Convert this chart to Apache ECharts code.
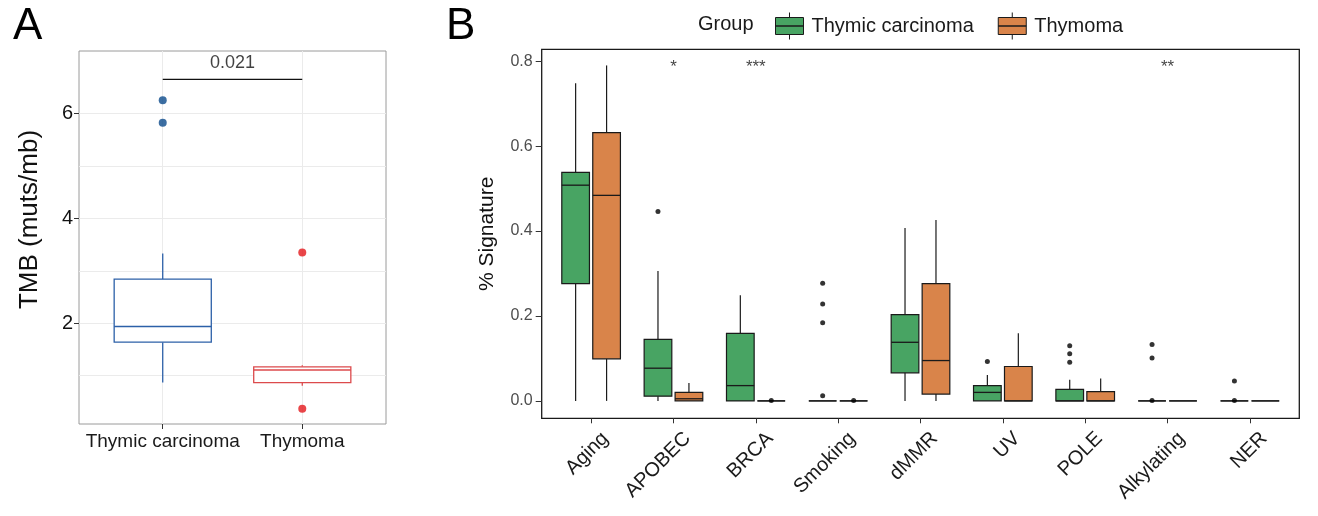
<!DOCTYPE html>
<html><head><meta charset="utf-8">
<script src="https://cdn.jsdelivr.net/npm/echarts@6/dist/echarts.min.js"></script>
<style>html,body{margin:0;padding:0;background:#fff}#c{width:1318px;height:516px}</style>
</head><body><div id="c"></div>
<script>
// ---------- Panel A data ----------
var groupsA = ['Thymic carcinoma', 'Thymoma'];
// [min, Q1, median, Q3, max]
var tmbCarcinoma = [0.87, 1.64, 1.94, 2.84, 3.33];
var tmbThymoma = [0.81, 0.87, 1.11, 1.17, 1.20];
var tmbOutliers = [[0, 6.25], [0, 5.82], [1, 3.35], [1, 0.37]]; // [groupIndex, value]
var tmbTicks = [2, 4, 6];
var tmbMinorTicks = [1, 3, 5];
var sigPairA = [0, 1];
var sigLineYA = 6.65;
var sigLabelA = '0.021';
var sigLabelYA = 6.96;

// ---------- Panel B data ----------
var categoriesB = ['Aging', 'APOBEC', 'BRCA', 'Smoking', 'dMMR', 'UV', 'POLE', 'Alkylating', 'NER'];
// [min, Q1, median, Q3, max] per signature
var carcinomaB = [
  [0, 0.276, 0.508, 0.538, 0.748],
  [0, 0.011, 0.077, 0.145, 0.306],
  [0, 0, 0.036, 0.159, 0.249],
  [0, 0, 0, 0, 0],
  [0, 0.066, 0.138, 0.203, 0.407],
  [0, 0, 0.020, 0.036, 0.061],
  [0, 0, 0, 0.027, 0.050],
  [0, 0, 0, 0, 0],
  [0, 0, 0, 0, 0]
];
var thymomaB = [
  [0, 0.099, 0.484, 0.632, 0.790],
  [0, 0, 0.005, 0.020, 0.042],
  [0, 0, 0, 0, 0],
  [0, 0, 0, 0, 0],
  [0, 0.016, 0.095, 0.276, 0.426],
  [0, 0, 0, 0.081, 0.159],
  [0, 0, 0, 0.022, 0.053],
  [0, 0, 0, 0, 0],
  [0, 0, 0, 0, 0]
];
var carcinomaOutliersB = [[1, 0.446], [3, 0.277], [3, 0.228], [3, 0.184], [3, 0.012], [5, 0.093],
  [6, 0.130], [6, 0.111], [6, 0.091], [7, 0.133], [7, 0.101], [7, 0.001], [8, 0.047], [8, 0.001]];
var thymomaOutliersB = [[2, 0.001], [3, 0.001]];
var sigLabelsB = [[1, '*'], [2, '***'], [7, '**']];
var sigLabelYB = 0.786;
var ticksB = [0, 0.2, 0.4, 0.6, 0.8];

// ---------- styles ----------
var colorsA = ['#2C60A8', '#DC4A4C'];
var outlierColorsA = ['#0B4A8B', '#E3181C'];
var green = '#48A463';
var orange = '#D9844A';
var dark = '#1a1a1a';
var dodge = 0.188;
var halfWB = 0.168;
var halfWA = 0.348;

function boxRenderer(offset, halfW, fillFn, strokeFn, lw) {
  return function (params, api) {
    var x = api.value(0) + offset;
    var pMin = api.coord([x, api.value(1)]);
    var pQ1 = api.coord([x, api.value(2)]);
    var pMed = api.coord([x, api.value(3)]);
    var pQ3 = api.coord([x, api.value(4)]);
    var pMax = api.coord([x, api.value(5)]);
    var left = api.coord([x - halfW, 0])[0];
    var right = api.coord([x + halfW, 0])[0];
    var stroke = strokeFn(params.dataIndex);
    var fill = fillFn(params.dataIndex);
    var ls = { stroke: stroke, lineWidth: lw };
    return {
      type: 'group', children: [
        { type: 'line', shape: { x1: pMax[0], y1: pMax[1], x2: pQ3[0], y2: pQ3[1] }, style: ls },
        { type: 'line', shape: { x1: pQ1[0], y1: pQ1[1], x2: pMin[0], y2: pMin[1] }, style: ls },
        { type: 'rect', shape: { x: left, y: pQ3[1], width: right - left, height: Math.max(pQ1[1] - pQ3[1], 0) },
          style: { fill: fill, stroke: stroke, lineWidth: lw } },
        { type: 'line', shape: { x1: left, y1: pMed[1], x2: right, y2: pMed[1] }, style: { stroke: stroke, lineWidth: lw * 1.1 } }
      ]
    };
  };
}
function rows(list) { return list.map(function (b, i) { return [i].concat(b); }); }

var chart = echarts.init(document.getElementById('c'), null, { renderer: 'canvas' });
var fam = "'Liberation Sans', Arial, Helvetica, sans-serif";

var option = {
  animation: false,
  textStyle: { fontFamily: fam },
  title: [
    { text: 'A', left: 8, top: 0, textStyle: { fontSize: 44, fontWeight: 'normal', color: '#000', fontFamily: fam } },
    { text: 'B', left: 441, top: 0, textStyle: { fontSize: 44, fontWeight: 'normal', color: '#000', fontFamily: fam } },
    { text: 'Group', left: 693, top: 9, textStyle: { fontSize: 20, fontWeight: 'normal', color: dark, fontFamily: fam } }
  ],
  legend: {
    data: ['Thymic carcinoma', 'Thymoma'],
    left: 770, top: 7,
    itemWidth: 28, itemHeight: 27, itemGap: 24,
    icon: 'path://M14,0 L14,5 M0,5 L28,5 L28,13.5 L0,13.5 Z M0,13.5 L28,13.5 L28,22 L0,22 Z M14,22 L14,27',
    itemStyle: { borderColor: dark, borderWidth: 1 },
    textStyle: { fontSize: 20, color: dark, fontFamily: fam, padding: [0, 0, 0, 3] },
    selectedMode: false
  },
  grid: [
    { left: 79, top: 51, width: 307, height: 373, show: true, borderColor: '#9a9a9a', borderWidth: 1, backgroundColor: 'transparent' },
    { left: 541.7, top: 49.3, width: 757.6, height: 369, show: true, borderColor: dark, borderWidth: 1.3, backgroundColor: 'transparent' }
  ],
  xAxis: [
    { type: 'value', gridIndex: 0, min: -0.6, max: 1.6, position: 'bottom',
      axisLine: { show: false, onZero: false },
      axisTick: { show: true, customValues: [0, 1], length: 5, lineStyle: { color: '#333' } },
      axisLabel: { customValues: [0, 1], formatter: function (v) { return groupsA[Math.round(v)]; }, fontSize: 19, color: dark, margin: 8 },
      splitLine: { show: true, lineStyle: { color: '#ebebeb', width: 1 } } },
    { type: 'value', gridIndex: 1, min: -0.6, max: 8.6, position: 'bottom',
      axisLine: { show: false, onZero: false },
      axisTick: { show: true, customValues: [0, 1, 2, 3, 4, 5, 6, 7, 8], length: 5, lineStyle: { color: '#333' } },
      axisLabel: { customValues: [0, 1, 2, 3, 4, 5, 6, 7, 8], formatter: function (v) { return categoriesB[Math.round(v)]; },
        rotate: 45, align: 'right', verticalAlign: 'top', fontSize: 20, color: dark, margin: 3, padding: [10, 0, 0, 0] },
      splitLine: { show: false } }
  ],
  yAxis: [
    { type: 'value', gridIndex: 0, min: 0.08, max: 7.19, position: 'left',
      axisLine: { show: false, onZero: false },
      axisTick: { show: true, customValues: tmbTicks, length: 5, lineStyle: { color: '#333' } },
      axisLabel: { customValues: tmbTicks, fontSize: 20, color: '#111', margin: 6 },
      splitLine: { show: true, lineStyle: { color: '#ebebeb', width: 1 } },
      name: 'TMB (muts/mb)', nameLocation: 'middle', nameGap: 36,
      nameTextStyle: { fontSize: 26, color: '#111', padding: [0, 0, 0, 36] } },
    { type: 'value', gridIndex: 0, min: 0.08, max: 7.19, position: 'left',
      axisLine: { show: false, onZero: false }, axisLabel: { show: false },
      axisTick: { show: false, customValues: tmbMinorTicks },
      splitLine: { show: true, lineStyle: { color: '#ebebeb', width: 1 } } },
    { type: 'value', gridIndex: 1, min: -0.041, max: 0.828, position: 'left',
      axisLine: { show: false, onZero: false },
      axisTick: { show: true, customValues: ticksB, length: 6, lineStyle: { color: '#333' } },
      axisLabel: { customValues: ticksB, formatter: function (v) { return v.toFixed(1); }, fontSize: 16, color: '#4d4d4d', margin: 9 },
      splitLine: { show: false },
      name: '% Signature', nameLocation: 'middle', nameGap: 44,
      nameTextStyle: { fontSize: 21, color: '#111' } }
  ],
  series: [
    { type: 'custom', name: 'TMB', xAxisIndex: 0, yAxisIndex: 0, silent: true,
      data: rows([tmbCarcinoma, tmbThymoma]), encode: { x: 0, y: [1, 2, 3, 4, 5] },
      renderItem: boxRenderer(0, halfWA, function () { return '#fff'; }, function (i) { return colorsA[i]; }, 1.3) },
    { type: 'scatter', name: 'TMB outliers', xAxisIndex: 0, yAxisIndex: 0, silent: true, symbolSize: 8,
      data: tmbOutliers.map(function (p) { return { value: [p[0], p[1]], itemStyle: { color: outlierColorsA[p[0]] } }; }) },
    { type: 'line', name: 'sigA', xAxisIndex: 0, yAxisIndex: 0, silent: true, symbol: 'none',
      lineStyle: { color: '#111', width: 1.3 },
      data: sigPairA.map(function (x) { return [x, sigLineYA]; }) },
    { type: 'scatter', name: 'sigA label', xAxisIndex: 0, yAxisIndex: 0, silent: true, symbolSize: 0,
      label: { show: true, position: 'inside', formatter: sigLabelA, fontSize: 18, color: '#111' },
      data: [[(sigPairA[0] + sigPairA[1]) / 2, sigLabelYA]] },
    { type: 'custom', name: 'Thymic carcinoma', xAxisIndex: 1, yAxisIndex: 2, silent: true,
      itemStyle: { color: green },
      data: rows(carcinomaB), encode: { x: 0, y: [1, 2, 3, 4, 5] },
      renderItem: boxRenderer(-dodge, halfWB, function () { return green; }, function () { return dark; }, 1.2) },
    { type: 'custom', name: 'Thymoma', xAxisIndex: 1, yAxisIndex: 2, silent: true,
      itemStyle: { color: orange },
      data: rows(thymomaB), encode: { x: 0, y: [1, 2, 3, 4, 5] },
      renderItem: boxRenderer(dodge, halfWB, function () { return orange; }, function () { return dark; }, 1.2) },
    { type: 'scatter', name: 'carc outliers', xAxisIndex: 1, yAxisIndex: 2, silent: true, symbolSize: 5,
      itemStyle: { color: '#000' },
      data: carcinomaOutliersB.map(function (p) { return [p[0] - dodge, p[1]]; }) },
    { type: 'scatter', name: 'thym outliers', xAxisIndex: 1, yAxisIndex: 2, silent: true, symbolSize: 5,
      itemStyle: { color: '#000' },
      data: thymomaOutliersB.map(function (p) { return [p[0] + dodge, p[1]]; }) },
    { type: 'scatter', name: 'sigB', xAxisIndex: 1, yAxisIndex: 2, silent: true, symbolSize: 0,
      label: { show: true, position: 'inside', formatter: function (p) { return p.data[2]; }, fontSize: 17, color: '#111' },
      data: sigLabelsB.map(function (s) { return [s[0], sigLabelYB, s[1]]; }) }
  ]
};
chart.setOption(option);
</script>
</body></html>
